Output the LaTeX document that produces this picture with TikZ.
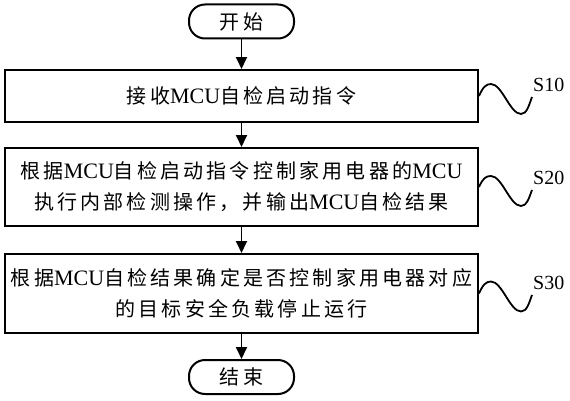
\documentclass[tikz,border=0pt]{standalone}
\usepackage{fontspec}
\setmainfont{Liberation Serif}
\newfontfamily\cjk[LetterSpace=16]{Noto Sans CJK SC}
\usetikzlibrary{arrows.meta,positioning}
\newcommand{\MCU}{{\rmfamily\fontsize{22}{31}\selectfont MCU}}

\tikzset{
    terminal/.style={draw, line width=2pt, rounded corners=16pt,
        minimum width=105pt, minimum height=34pt,
        font=\cjk\fontsize{20}{32}\selectfont},
    stepbox/.style={draw, line width=2pt, minimum width=473pt, align=center,
        font=\cjk\fontsize{20}{31}\selectfont},
    flow/.style={-{Triangle[width=11pt,length=12pt]}, line width=1.8pt},
    wave/.style={line width=1.8pt},
    steplabel/.style={font=\fontsize{20}{24}\selectfont, inner sep=0pt, anchor=west}
}

\begin{document}
\begin{tikzpicture}[x=1pt, y=1pt]
    \useasboundingbox (0,0) rectangle (570,400);
    % Flow nodes
    \node [terminal] (start) at (241.5, 378.5) {开始};
    \node [stepbox, minimum height=52pt] (s10) at (241.5, 304) {接收\MCU 自检启动指令};
    \node [stepbox, minimum height=78pt] (s20) at (241.5, 213)
        {根据\MCU 自检启动指令控制家用电器的\MCU\\执行内部检测操作，并输出\MCU 自检结果};
    \node [stepbox, minimum height=79pt] (s30) at (241.5, 106.5)
        {根据\MCU 自检结果确定是否控制家用电器对应\\的目标安全负载停止运行};
    \node [terminal] (stop) at (241.5, 23) {结束};
    % Arrows
    \draw [flow] (start) -- (s10);
    \draw [flow] (s10) -- (s20);
    \draw [flow] (s20) -- (s30);
    \draw [flow] (s30) -- (stop);
    % Step labels
    \node [steplabel] (l10) at (533, 315) {S10};
    \node [steplabel] (l20) at (533, 222) {S20};
    \node [steplabel] (l30) at (533, 117) {S30};
    \draw [wave] (s10.east) .. controls +(4,9) and +(-5,0) .. ++(12,12)
        .. controls +(11,0) and +(-11,0) .. ++(30,-30)
        .. controls +(6,0) and +(-3,-8) .. ([shift={(-1,-5)}]l10.south west);
    \draw [wave] (s20.east) .. controls +(4,9) and +(-5,0) .. ++(12,11)
        .. controls +(11,0) and +(-11,0) .. ++(30,-30)
        .. controls +(6,0) and +(-3,-8) .. ([shift={(-1,-5)}]l20.south west);
    \draw [wave] (s30.east) .. controls +(4,9) and +(-5,0) .. ++(12,12)
        .. controls +(11,0) and +(-11,0) .. ++(30,-30)
        .. controls +(6,0) and +(-3,-8) .. ([shift={(-1,-5)}]l30.south west);
\end{tikzpicture}
\end{document}
